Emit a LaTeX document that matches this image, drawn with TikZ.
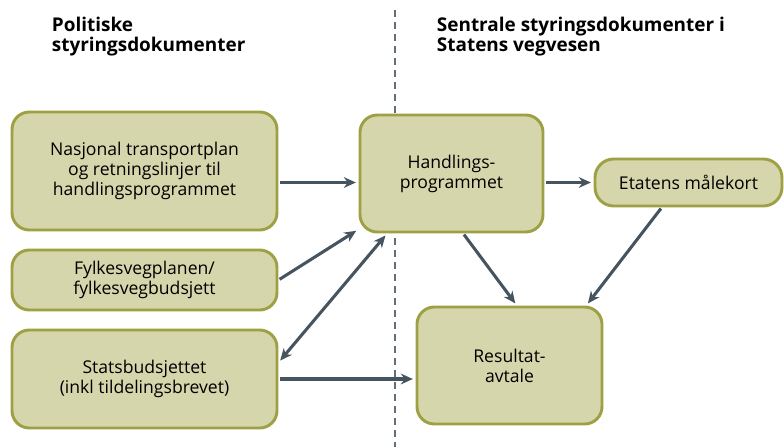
\documentclass[tikz,border=0pt]{standalone}
\usepackage{fontspec}
\setmainfont{Open Sans}
\usetikzlibrary{arrows.meta}

\definecolor{boxfill}{RGB}{214,214,172}
\definecolor{boxline}{RGB}{158,160,68}
\definecolor{arrowcol}{RGB}{70,84,96}
\definecolor{dashcol}{RGB}{100,110,120}

\tikzset{every picture/.style={line width=0.75pt}}
\tikzset{
  box/.style={draw=boxline, fill=boxfill, line width=2.2pt, rounded corners=13pt, align=center, font=\fontsize{13.2}{15}\selectfont, inner sep=0pt},
  arr/.style={draw=arrowcol, line width=2.3pt, -{Stealth[length=9pt,width=8pt]}, shorten >=2pt, shorten <=1pt},
  title/.style={anchor=north west, align=left, font=\fontsize{14.2}{15.3}\selectfont\bfseries}
}

\begin{document}
\begin{tikzpicture}[x=0.75pt,y=0.75pt,yscale=-1,xscale=1]
\useasboundingbox (0,0) rectangle (784,447);

%Straight Lines: divider
\coordinate (divtop) at (395,10);
\coordinate (divbot) at (395,447);
\draw [color=dashcol, line width=1.2pt, dash pattern={on 5pt off 4pt}] (divtop) -- (divbot);

% Text Node
\node [title] (politiske) at (47,12) {Politiske\\styringsdokumenter};
% Text Node
\node [title] (sentrale) at (432,12) {Sentrale styringsdokumenter i\\Statens vegvesen};

%Shape: Rounded Rect
\node [box, minimum width=198.75pt, minimum height=88.5pt] (nasjonal) at (144.5,171) {Nasjonal transportplan\\og retningslinjer til\\handlingsprogrammet};
%Shape: Rounded Rect
\node [box, minimum width=198.75pt, minimum height=45pt] (fylkes) at (144.5,280) {Fylkesvegplanen/\\fylkesvegbudsjett};
%Shape: Rounded Rect
\node [box, minimum width=198.75pt, minimum height=73.5pt] (stats) at (144.5,379) {Statsbudsjettet\\(inkl tildelingsbrevet)};
%Shape: Rounded Rect
\node [box, minimum width=137.25pt, minimum height=87.75pt] (handling) at (451.5,173.5) {Handlings-\\programmet};
%Shape: Rounded Rect
\node [box, minimum width=140.25pt, minimum height=35.25pt, rounded corners=14pt] (maalekort) at (688.5,182.5) {Etatens målekort};
%Shape: Rounded Rect
\node [box, minimum width=138.75pt, minimum height=87.75pt] (resultat) at (509.5,365.5) {Resultat-\\avtale};

%Arrows
\draw [arr] (nasjonal.east |- maalekort.west) -- (handling.west |- maalekort.west);
\draw [arr] (fylkes.east) -- (handling.211);
\draw [arr, {Stealth[length=9pt,width=8pt]}-{Stealth[length=9pt,width=8pt]}, shorten <=2pt] (stats.7) -- (handling.223);
\draw [arr] (stats.east) -- (stats.east -| resultat.west);
\draw [arr] (handling.east |- maalekort.west) -- (maalekort.west);
\draw [arr] (handling.281) -- (resultat.83);
\draw [arr] (maalekort.223) -- (resultat.38);

\end{tikzpicture}
\end{document}
